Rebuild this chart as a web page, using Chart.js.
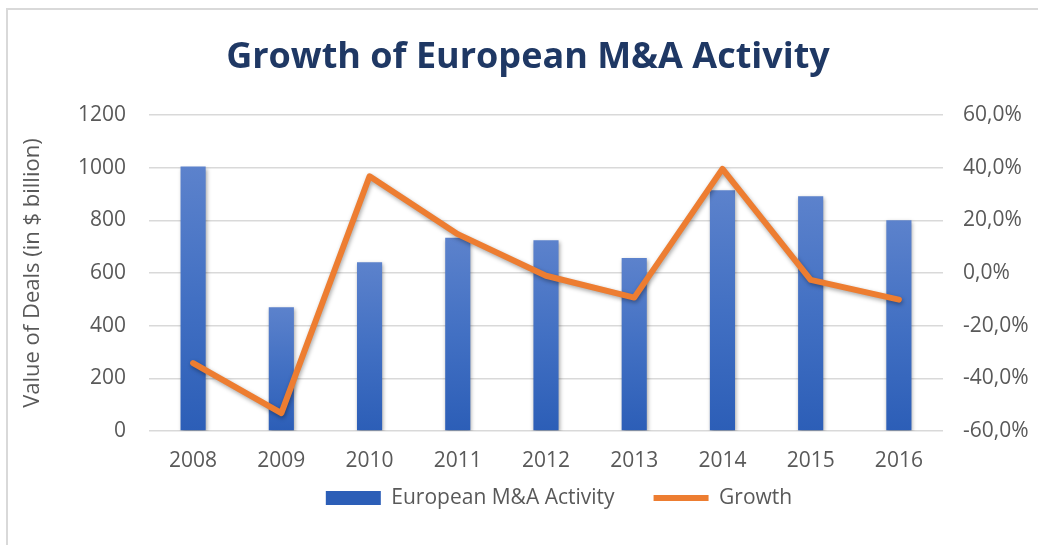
<!DOCTYPE html>
<html>
<head>
<meta charset="utf-8">
<script src="https://cdn.jsdelivr.net/npm/chart.js@4.4.1/dist/chart.umd.min.js"></script>
<style>
  html, body { margin: 0; padding: 0; background: #fff; }
  #wrap { position: relative; width: 1038px; height: 545px; }
  #frame { position: absolute; left: 6px; top: 8px; right: -4px; bottom: -4px;
           border-left: 2px solid #d9d9d9; border-top: 2px solid #d9d9d9; }
  canvas { position: absolute; left: 0; top: 0; }
</style>
</head>
<body>
<div id="wrap">
  <div id="frame"></div>
  <canvas id="chart" width="1038" height="545"></canvas>
</div>
<script>
// data
const years = ['2008', '2009', '2010', '2011', '2012', '2013', '2014', '2015', '2016'];
const dealValues = [1005, 470, 641, 734, 725, 657, 915, 892, 801];
const growthPct = [-34.2, -53.2, 36.8, 14.8, -1.0, -9.3, 39.6, -2.6, -10.1];
const leftTicks = [0, 200, 400, 600, 800, 1000, 1200];
const rightTicks = [-60, -40, -20, 0, 20, 40, 60];

const FONT = "'Open Sans', sans-serif";
const GREY = '#595959';
const LEGEND_PAD = 39;
const LEGEND_FONT = 21;

// vertical gradient for each bar, lighter at the top
function barFill(ctx) {
  if (ctx.type !== 'data' || !ctx.chart.chartArea) return '#4472C4';
  const y = ctx.chart.scales.y;
  const top = y.getPixelForValue(ctx.raw);
  const bottom = y.getPixelForValue(0);
  const g = ctx.chart.ctx.createLinearGradient(0, top, 0, bottom);
  g.addColorStop(0, '#5C82CC');
  g.addColorStop(0.5, '#4270C3');
  g.addColorStop(1, '#2C5EB7');
  return g;
}

// soft shadow under bars and line, like the office chart
const shadowPlugin = {
  id: 'shadow',
  beforeDatasetDraw(chart) {
    const c = chart.ctx;
    c.save();
    c.shadowColor = 'rgba(0,0,0,0.35)';
    c.shadowBlur = 4;
    c.shadowOffsetX = 1;
    c.shadowOffsetY = 2;
  },
  afterDatasetDraw(chart) {
    chart.ctx.restore();
  },
  afterLayout(chart) {
    // legend sits centred on the plot area, and a bit higher than its box
    const lg = chart.legend;
    const dy = (498 - LEGEND_PAD - LEGEND_FONT / 2) - lg.top;
    lg.top += dy;
    lg.bottom += dy;
    lg.left += 31;
    lg.right += 31;
  }
};

new Chart(document.getElementById('chart'), {
  data: {
    labels: years,
    datasets: [
      {
        type: 'bar',
        label: 'European M&A Activity',
        data: dealValues,
        yAxisID: 'y',
        backgroundColor: barFill,
        borderWidth: 0,
        categoryPercentage: 1,
        barPercentage: 0.285,
        pointStyle: 'rect',
        order: 2
      },
      {
        type: 'line',
        label: 'Growth',
        data: growthPct,
        yAxisID: 'y1',
        borderColor: '#ED7D31',
        backgroundColor: '#ED7D31',
        borderWidth: 6,
        borderJoinStyle: 'round',
        borderCapStyle: 'round',
        pointRadius: 0,
        pointHoverRadius: 0,
        pointStyle: 'line',
        tension: 0,
        order: 1
      }
    ]
  },
  options: {
    responsive: false,
    animation: false,
    layout: { padding: { left: 18, right: 0, top: 0, bottom: 0 } },
    plugins: {
      title: {
        display: true,
        text: 'Growth of European M&A Activity',
        color: '#1F3864',
        font: { family: FONT, size: 36, weight: 'bold' },
        padding: { top: 36, bottom: 36 }
      },
      legend: {
        position: 'bottom',
        labels: {
          usePointStyle: true,
          pointStyleWidth: 55,
          boxHeight: 14,
          padding: LEGEND_PAD,
          color: GREY,
          font: { family: FONT, size: LEGEND_FONT },
          sort: (a, b) => a.datasetIndex - b.datasetIndex
        }
      },
      tooltip: { enabled: false }
    },
    scales: {
      x: {
        grid: { display: false, drawTicks: false },
        border: { display: false },
        ticks: { color: GREY, font: { family: FONT, size: 21 }, padding: 17 },
        afterFit: s => { s.height = 44; }
      },
      y: {
        position: 'left',
        min: 0,
        max: 1200,
        afterBuildTicks: s => { s.ticks = leftTicks.map(v => ({ value: v })); },
        grid: { color: '#d9d9d9', lineWidth: 1.5, drawTicks: false },
        border: { display: false },
        ticks: {
          color: GREY,
          font: { family: FONT, size: 21 },
          padding: 23,
          callback: v => String(v)
        },
        title: {
          display: true,
          text: 'Value of Deals (in $ billion)',
          color: GREY,
          font: { family: FONT, size: 22 },
          padding: { top: 2, bottom: 0 }
        },
        afterFit: s => { s.width = 149 - 18; }
      },
      y1: {
        position: 'right',
        min: -60,
        max: 60,
        afterBuildTicks: s => { s.ticks = rightTicks.map(v => ({ value: v })); },
        grid: { display: false, drawTicks: false },
        border: { display: false },
        ticks: {
          color: GREY,
          font: { family: FONT, size: 21 },
          padding: 20,
          callback: v => v.toFixed(1).replace('.', ',') + '%'
        },
        afterFit: s => { s.width = 1038 - 943; }
      }
    }
  },
  plugins: [shadowPlugin]
});
</script>
</body>
</html>
